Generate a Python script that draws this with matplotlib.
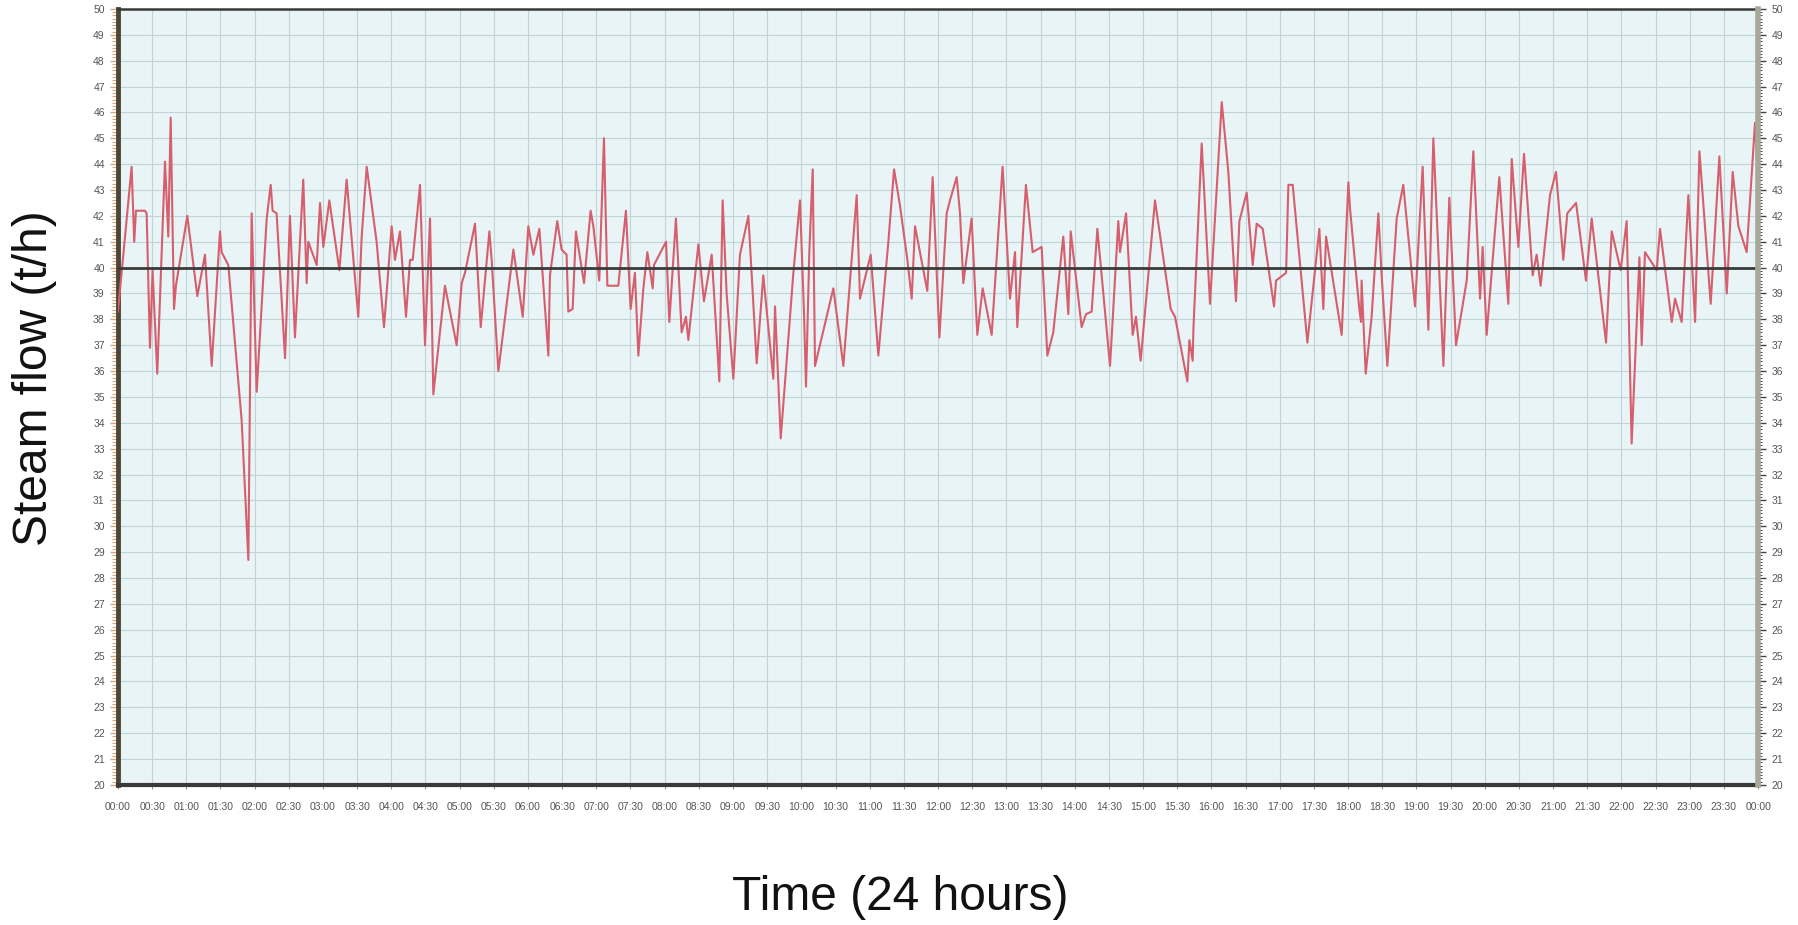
import numpy as np
import matplotlib
matplotlib.use("Agg")
import matplotlib.pyplot as plt
from matplotlib.ticker import MultipleLocator

# ---- data: time (minutes after 00:00) and steam flow (t/h) ----
t_q1 = [0, 12.0, 14.3, 15.8, 23.7, 25.2, 28.1, 30.4, 34.5, 41.3, 44.2, 46.3, 48.0, 49.2, 50.9,
        60.9, 69.7, 76.4, 82.3, 89.6, 91.0, 96.9, 108.6, 114.5, 117.4, 121.8, 130.6, 134.1,
        135.8, 139.3, 146.7, 151.0, 155.4, 162.7, 165.7, 167.1, 174.5, 177.4, 180.3, 185.6,
        194.4, 200.8, 211.0, 214.0, 218.4, 227.1, 233.6, 240.3, 243.2, 247.6, 252.9, 256.4,
        258.8, 265.2, 269.6, 274.0, 276.9, 287.1, 297.4, 301.8, 304.7, 313.5, 318.5, 326.1,
        328.1, 334.0, 347.2, 355.4, 360.3, 364.7, 370.0, 377.9]
v_q1 = [38.3, 43.9, 41.0, 42.2, 42.2, 42.1, 36.9, 39.9, 35.9, 44.1, 41.2, 45.8, 41.5, 38.4, 39.3,
        42.0, 38.9, 40.5, 36.2, 41.4, 40.6, 40.1, 34.1, 28.7, 42.1, 35.2, 41.9, 43.2,
        42.2, 42.1, 36.5, 42.0, 37.3, 43.4, 39.4, 41.0, 40.1, 42.5, 40.8, 42.6,
        39.9, 43.4, 38.1, 41.2, 43.9, 41.0, 37.7, 41.6, 40.3, 41.4, 38.1, 40.3,
        40.3, 43.2, 37.0, 41.9, 35.1, 39.3, 37.0, 39.4, 39.8, 41.7, 37.7, 41.4,
        40.3, 36.0, 40.7, 38.1, 41.6, 40.5, 41.5, 36.6]

t_q2 = [379.3, 385.7, 389.5, 393.9, 395.4, 399.2, 402.1, 409.2, 415.0, 417.4, 422.6, 426.7,
        429.7, 439.3, 446.0, 450.1, 453.9, 456.9, 461.3, 464.8, 469.5, 470.6, 481.2, 484.1,
        489.9, 494.9, 498.7, 500.8, 509.6, 514.5, 521.3, 528.0, 530.9, 534.4, 540.3, 546.1,
        553.5, 560.8, 566.6, 575.4, 576.9, 581.9, 593.0, 598.8, 602.3, 604.1, 607.0, 610.0,
        612.0, 628.1, 636.9, 648.6, 651.5, 660.9, 667.6, 676.4, 681.4, 686.6, 693.1, 696.9,
        699.8, 710.6, 715.3, 721.2, 727.6, 730.5]
v_q2 = [39.7, 41.8, 40.7, 40.5, 38.3, 38.4, 41.4, 39.4, 42.2, 41.6, 39.5, 45.0,
        39.3, 39.3, 42.2, 38.4, 39.8, 36.6, 39.2, 40.6, 39.2, 40.1, 41.0, 37.9,
        41.9, 37.5, 38.1, 37.2, 40.9, 38.7, 40.5, 35.6, 42.6, 39.0, 35.7, 40.5,
        42.0, 36.3, 39.7, 35.7, 38.5, 33.4, 39.8, 42.6, 38.3, 35.4, 40.6, 43.8,
        36.2, 39.2, 36.2, 42.8, 38.8, 40.5, 36.6, 41.0, 43.8, 42.4, 40.3, 38.8,
        41.6, 39.1, 43.5, 37.3, 42.1, 42.6]

t_q3 = [736.4, 739.3, 742.2, 749.5, 754.5, 759.2, 767.1, 776.7, 783.2, 787.6, 789.6, 797.2,
        803.1, 811.0, 816.0, 821.2, 830.0, 834.4, 836.5, 846.1, 849.9, 854.9, 859.9, 871.0,
        878.3, 879.8, 885.1, 890.9, 893.8, 897.9, 910.5, 916.4, 924.3, 928.1, 938.9, 940.7,
        943.6, 944.2, 951.5, 958.8, 969.1, 974.9, 981.6, 984.6, 991.0, 996.3, 999.8, 1005.1,
        1015.0, 1016.8, 1025.6, 1027.6, 1031.4, 1044.3, 1054.8, 1058.3, 1060.7, 1074.4,
        1080.3, 1081.7]
v_q3 = [43.5, 42.1, 39.4, 41.9, 37.4, 39.2, 37.4, 43.9, 38.8, 40.6, 37.7, 43.2,
        40.6, 40.8, 36.6, 37.5, 41.2, 38.2, 41.4, 37.7, 38.2, 38.3, 41.5, 36.2,
        41.8, 40.6, 42.1, 37.4, 38.1, 36.4, 42.6, 40.8, 38.4, 38.1, 35.6, 37.2,
        36.4, 37.6, 44.8, 38.6, 46.4, 43.7, 38.7, 41.8, 42.9, 40.1, 41.7, 41.5,
        38.5, 39.5, 39.8, 43.2, 43.2, 37.1, 41.5, 38.4, 41.2, 37.4,
        43.3, 42.3]

t_q4 = [1089.9, 1091.4, 1091.9, 1095.5, 1100.7, 1106.6, 1109.5, 1114.5, 1122.7, 1128.5,
        1138.8, 1145.5, 1150.5, 1154.9, 1163.7, 1168.9, 1174.8, 1184.2, 1190.0, 1195.9,
        1198.2, 1201.7, 1212.8, 1220.7, 1223.7, 1229.5, 1234.5, 1242.1, 1245.6, 1249.1,
        1257.3, 1262.6, 1269.0, 1272.5, 1280.2, 1288.9, 1293.9, 1306.5, 1311.5, 1319.4,
        1324.6, 1329.0, 1335.8, 1337.8, 1340.7, 1351.0, 1353.9, 1364.2, 1367.1, 1372.9,
        1378.8, 1384.7, 1388.5, 1398.4, 1406.0, 1412.5, 1417.7, 1422.7, 1430.0, 1437.3,
        1439.4]
v_q4 = [38.4, 37.9, 39.5, 35.9, 38.1, 42.1, 39.7, 36.2, 41.9, 43.2,
        38.5, 43.9, 37.6, 45.0, 36.2, 42.7, 37.0, 39.5, 44.5, 38.8,
        40.8, 37.4, 43.5, 38.6, 44.2, 40.8, 44.4, 39.7, 40.5, 39.3,
        42.8, 43.7, 40.3, 42.1, 42.5, 39.5, 41.9, 37.1, 41.4, 39.9,
        41.8, 33.2, 40.4, 37.0, 40.6, 39.9, 41.5, 37.9, 38.8, 37.9,
        42.8, 37.9, 44.5, 38.6, 44.3, 39.0, 43.7, 41.6, 40.6, 45.6,
        43.8]

setpoint = 40
y_min, y_max = 20, 50
x_labels = [f"{(m // 60) % 24:02d}:{m % 60:02d}" for m in range(0, 24 * 60 + 1, 30)]

time_min = np.array(t_q1 + t_q2 + t_q3 + t_q4)
flow = np.array(v_q1 + v_q2 + v_q3 + v_q4)
hours = time_min / 60.0

# ---- figure ----
plt.rcParams['font.family'] = ['Liberation Sans', 'DejaVu Sans']
fig = plt.figure(figsize=(17.98, 9.25), dpi=100)
ax = fig.add_axes([0.0656, 0.1514, 0.9122, 0.8389])
ax.set_facecolor('#e8f4f6')

ax.set_xlim(0, 24)
ax.set_ylim(y_min, y_max)

# grid
ax.xaxis.set_major_locator(MultipleLocator(0.5))
ax.yaxis.set_major_locator(MultipleLocator(1))
ax.yaxis.set_minor_locator(MultipleLocator(0.125))
ax.grid(True, which='major', color='#c3d4d8', linewidth=0.8)
ax.set_axisbelow(True)

ax.plot(hours, flow, color='#d65e6d', linewidth=1.5, zorder=3)
ax.axhline(setpoint, color='#3a3a3a', linewidth=2.0, zorder=4)

# x ticks
ax.set_xticks(np.arange(0, 24.01, 0.5))
ax.set_xticklabels(x_labels, fontsize=7.5, color='#555555')
ax.tick_params(axis='x', which='major', length=3, color='#999999', pad=9)

# left y ticks
ax.tick_params(axis='y', which='both', direction='out', colors='#d9a57c',
               labelcolor='#555555', labelsize=7.5)
ax.tick_params(axis='y', which='major', length=6, width=1.0)
ax.tick_params(axis='y', which='minor', length=4, width=0.8)
ax.set_yticks(np.arange(y_min, y_max + 1, 1))

# spines
ax.spines['left'].set_linewidth(3.5)
ax.spines['left'].set_color('#4d4637')
ax.spines['bottom'].set_linewidth(3.0)
ax.spines['bottom'].set_color('#3a3a3a')
ax.spines['top'].set_linewidth(1.8)
ax.spines['top'].set_color('#3a3a3a')
ax.spines['right'].set_visible(False)

# right axis
ax2 = ax.twinx()
ax2.set_ylim(y_min, y_max)
ax2.set_yticks(np.arange(y_min, y_max + 1, 1))
ax2.yaxis.set_minor_locator(MultipleLocator(0.125))
ax2.tick_params(axis='y', which='both', direction='out', colors='#444444',
                labelcolor='#555555', labelsize=7.5)
ax2.tick_params(axis='y', which='major', length=6, width=1.0)
ax2.tick_params(axis='y', which='minor', length=3, width=0.7)
for s in ['left', 'top', 'bottom']:
    ax2.spines[s].set_visible(False)
ax2.spines['right'].set_linewidth(4)
ax2.spines['right'].set_color('#a8a898')

# axis titles
fig.text(0.5005, 0.030, 'Time (24 hours)', ha='center', va='center',
         fontsize=34.5, color='#111111')
fig.text(0.019, 0.591, 'Steam flow (t/h)', ha='center', va='center',
         rotation=90, fontsize=34.5, color='#111111')

fig.savefig('out.png', dpi=100, facecolor='white')
